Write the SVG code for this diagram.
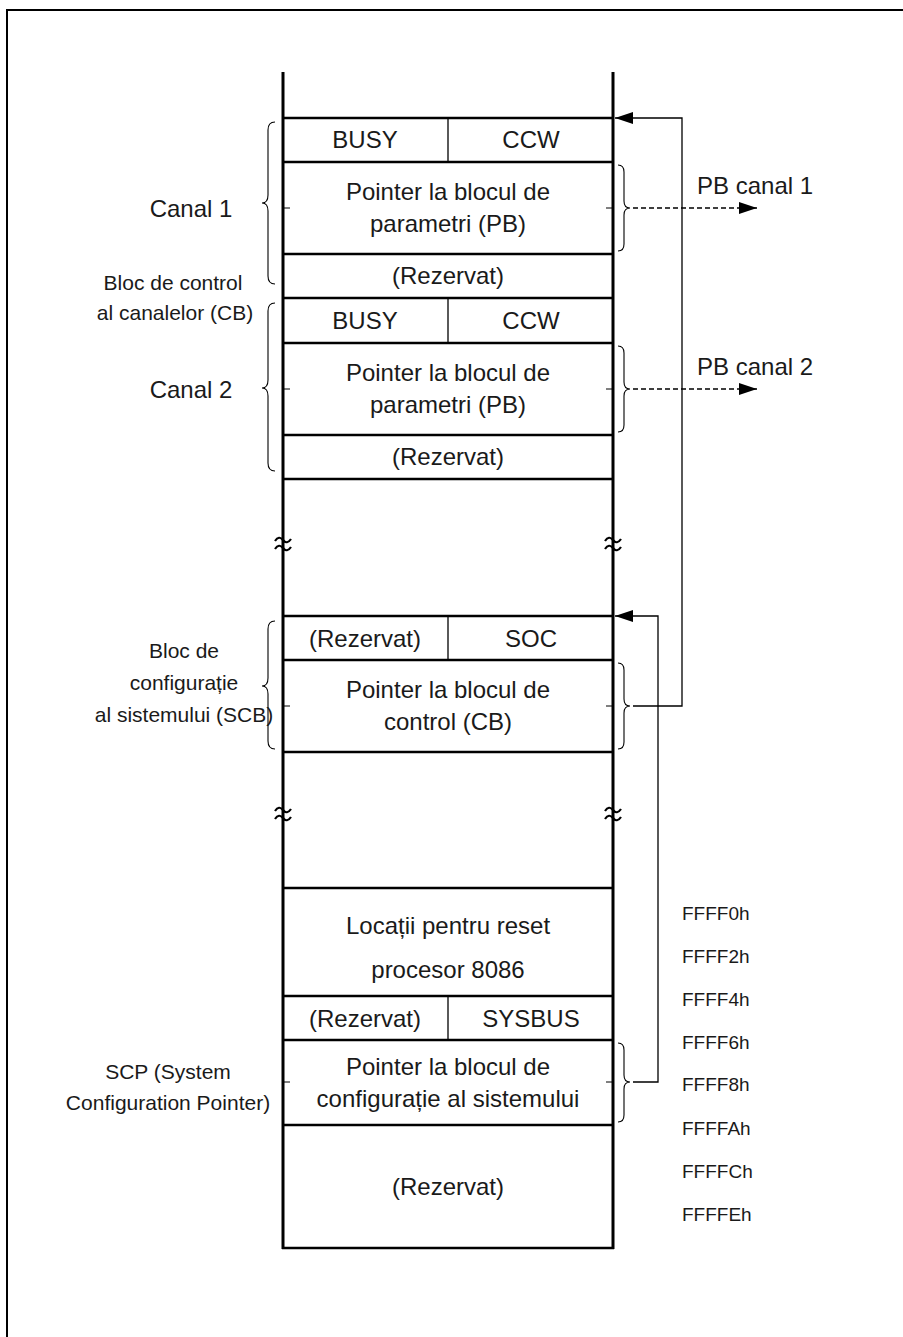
<svg xmlns="http://www.w3.org/2000/svg" width="903" height="1337" viewBox="0 0 903 1337">
  <style>
    text { font-family: "Liberation Sans", Arial, sans-serif; fill: #1a1a1a; }
    .box { font-size: 24px; text-anchor: middle; }
    .lbl { font-size: 21px; text-anchor: middle; }
    .big { font-size: 24px; text-anchor: middle; }
    .out { font-size: 24px; }
    .addr { font-size: 19px; }
    .wall { stroke: #000; stroke-width: 3; fill: none; }
    .row { stroke: #000; stroke-width: 2.5; fill: none; }
    .div { stroke: #000; stroke-width: 1.3; fill: none; }
    .tick { stroke: #000; stroke-width: 1; fill: none; }
    .brace { stroke: #000; stroke-width: 1.1; fill: none; }
    .wire { stroke: #000; stroke-width: 1.3; fill: none; }
    .dash { stroke: #000; stroke-width: 1.3; fill: none; stroke-dasharray: 5 3; }
    .brk { stroke: #000; stroke-width: 2.2; fill: none; }
  </style>
  <defs>
    <marker id="head" markerWidth="18" markerHeight="12" refX="18" refY="6" orient="auto" markerUnits="userSpaceOnUse">
      <path d="M0,0 L18,6 L0,12 Z" fill="#000"/>
    </marker>
    <path id="wave" d="M-8,1 q4,-6 8,-1 t8,-1" />
  </defs>

  <rect width="903" height="1337" fill="#fff"/>

  <!-- page frame (top and left edges) -->
  <path d="M7,1337 V10 H903" stroke="#000" stroke-width="2" fill="none"/>

  <!-- memory column walls -->
  <g id="column">
    <line class="wall" x1="283" y1="72" x2="283" y2="1249"/>
    <line class="wall" x1="613" y1="72" x2="613" y2="1249"/>
    <!-- break marks -->
    <g class="brk">
      <use href="#wave" x="283" y="540"/><use href="#wave" x="283" y="548"/>
      <use href="#wave" x="613" y="540"/><use href="#wave" x="613" y="548"/>
      <use href="#wave" x="283" y="810"/><use href="#wave" x="283" y="818"/>
      <use href="#wave" x="613" y="810"/><use href="#wave" x="613" y="818"/>
    </g>
  </g>

  <!-- Canal 1 block -->
  <g id="canal1">
    <line class="row" x1="283" y1="118" x2="613" y2="118"/>
    <line class="row" x1="283" y1="162" x2="613" y2="162"/>
    <line class="row" x1="283" y1="254" x2="613" y2="254"/>
    <line class="row" x1="283" y1="298" x2="613" y2="298"/>
    <line class="div" x1="448" y1="118" x2="448" y2="162"/>
    <text class="box" x="365" y="148">BUSY</text>
    <text class="box" x="531" y="148">CCW</text>
    <text class="box" x="448" y="200">Pointer la blocul de</text>
    <text class="box" x="448" y="232">parametri (PB)</text>
    <text class="box" x="448" y="284">(Rezervat)</text>
    <line class="tick" x1="283" y1="208" x2="290" y2="208"/>
    <line class="tick" x1="606" y1="208" x2="613" y2="208"/>
  </g>

  <!-- Canal 2 block -->
  <g id="canal2">
    <line class="row" x1="283" y1="343" x2="613" y2="343"/>
    <line class="row" x1="283" y1="435" x2="613" y2="435"/>
    <line class="row" x1="283" y1="479" x2="613" y2="479"/>
    <line class="div" x1="448" y1="298" x2="448" y2="343"/>
    <text class="box" x="365" y="329">BUSY</text>
    <text class="box" x="531" y="329">CCW</text>
    <text class="box" x="448" y="381">Pointer la blocul de</text>
    <text class="box" x="448" y="413">parametri (PB)</text>
    <text class="box" x="448" y="465">(Rezervat)</text>
    <line class="tick" x1="283" y1="389" x2="290" y2="389"/>
    <line class="tick" x1="606" y1="389" x2="613" y2="389"/>
  </g>

  <!-- System configuration block -->
  <g id="scb">
    <line class="row" x1="283" y1="616" x2="613" y2="616"/>
    <line class="row" x1="283" y1="660" x2="613" y2="660"/>
    <line class="row" x1="283" y1="752" x2="613" y2="752"/>
    <line class="div" x1="448" y1="616" x2="448" y2="660"/>
    <text class="box" x="365" y="647">(Rezervat)</text>
    <text class="box" x="531" y="647">SOC</text>
    <text class="box" x="448" y="698">Pointer la blocul de</text>
    <text class="box" x="448" y="730">control (CB)</text>
    <line class="tick" x1="283" y1="706" x2="290" y2="706"/>
    <line class="tick" x1="606" y1="706" x2="613" y2="706"/>
  </g>

  <!-- Reset area and SCP -->
  <g id="scp">
    <line class="row" x1="283" y1="888" x2="613" y2="888"/>
    <line class="row" x1="283" y1="996" x2="613" y2="996"/>
    <line class="row" x1="283" y1="1040" x2="613" y2="1040"/>
    <line class="row" x1="283" y1="1125" x2="613" y2="1125"/>
    <line class="row" x1="282" y1="1248" x2="614" y2="1248"/>
    <line class="div" x1="448" y1="996" x2="448" y2="1040"/>
    <text class="box" x="448" y="934">Locații pentru reset</text>
    <text class="box" x="448" y="978">procesor 8086</text>
    <text class="box" x="365" y="1027">(Rezervat)</text>
    <text class="box" x="531" y="1027">SYSBUS</text>
    <text class="box" x="448" y="1075">Pointer la blocul de</text>
    <text class="box" x="448" y="1107">configurație al sistemului</text>
    <text class="box" x="448" y="1195">(Rezervat)</text>
    <line class="tick" x1="283" y1="1082" x2="290" y2="1082"/>
    <line class="tick" x1="606" y1="1082" x2="613" y2="1082"/>
  </g>

  <!-- left labels -->
  <g id="labels-left">
    <path class="brace" d="M275,122 Q268,122 268,130 L268,195 Q268,203 262,203 Q268,203 268,211 L268,276 Q268,284 275,284"/>
    <text class="big" x="191" y="217">Canal 1</text>
    <text class="lbl" x="173" y="290">Bloc de control</text>
    <text class="lbl" x="175" y="320">al canalelor (CB)</text>
    <path class="brace" d="M275,303 Q268,303 268,311 L268,380 Q268,388 262,388 Q268,388 268,396 L268,463 Q268,471 275,471"/>
    <text class="big" x="191" y="398">Canal 2</text>
    <path class="brace" d="M275,621 Q268,621 268,629 L268,678 Q268,686 262,686 Q268,686 268,694 L268,741 Q268,749 275,749"/>
    <text class="lbl" x="184" y="658">Bloc de</text>
    <text class="lbl" x="184" y="690">configurație</text>
    <text class="lbl" x="184" y="722">al sistemului (SCB)</text>
    <text class="lbl" x="168" y="1079">SCP (System</text>
    <text class="lbl" x="168" y="1110">Configuration Pointer)</text>
  </g>

  <!-- right braces -->
  <g id="braces-right">
    <path class="brace" d="M618,165 Q624,165 624,172 L624,201 Q624,208 630,208 Q624,208 624,215 L624,244 Q624,251 618,251"/>
    <path class="brace" d="M618,346 Q624,346 624,353 L624,382 Q624,389 630,389 Q624,389 624,396 L624,425 Q624,432 618,432"/>
    <path class="brace" d="M618,663 Q624,663 624,670 L624,699 Q624,706 630,706 Q624,706 624,713 L624,742 Q624,749 618,749"/>
    <path class="brace" d="M618,1043 Q624,1043 624,1050 L624,1075 Q624,1082 630,1082 Q624,1082 624,1089 L624,1115 Q624,1122 618,1122"/>
  </g>

  <!-- connectors -->
  <g id="connectors">
    <line class="dash" x1="633" y1="208" x2="757" y2="208" marker-end="url(#head)"/>
    <line class="dash" x1="633" y1="389" x2="757" y2="389" marker-end="url(#head)"/>
    <polyline class="wire" points="633,706 682,706 682,118 615,118" marker-end="url(#head)"/>
    <polyline class="wire" points="633,1082 658,1082 658,616 615,616" marker-end="url(#head)"/>
  </g>

  <!-- right labels -->
  <g id="labels-right">
    <text class="out" x="697" y="194">PB canal 1</text>
    <text class="out" x="697" y="375">PB canal 2</text>
    <text class="addr" x="682" y="920">FFFF0h</text>
    <text class="addr" x="682" y="963">FFFF2h</text>
    <text class="addr" x="682" y="1006">FFFF4h</text>
    <text class="addr" x="682" y="1049">FFFF6h</text>
    <text class="addr" x="682" y="1091">FFFF8h</text>
    <text class="addr" x="682" y="1135">FFFFAh</text>
    <text class="addr" x="682" y="1178">FFFFCh</text>
    <text class="addr" x="682" y="1221">FFFFEh</text>
  </g>
</svg>
